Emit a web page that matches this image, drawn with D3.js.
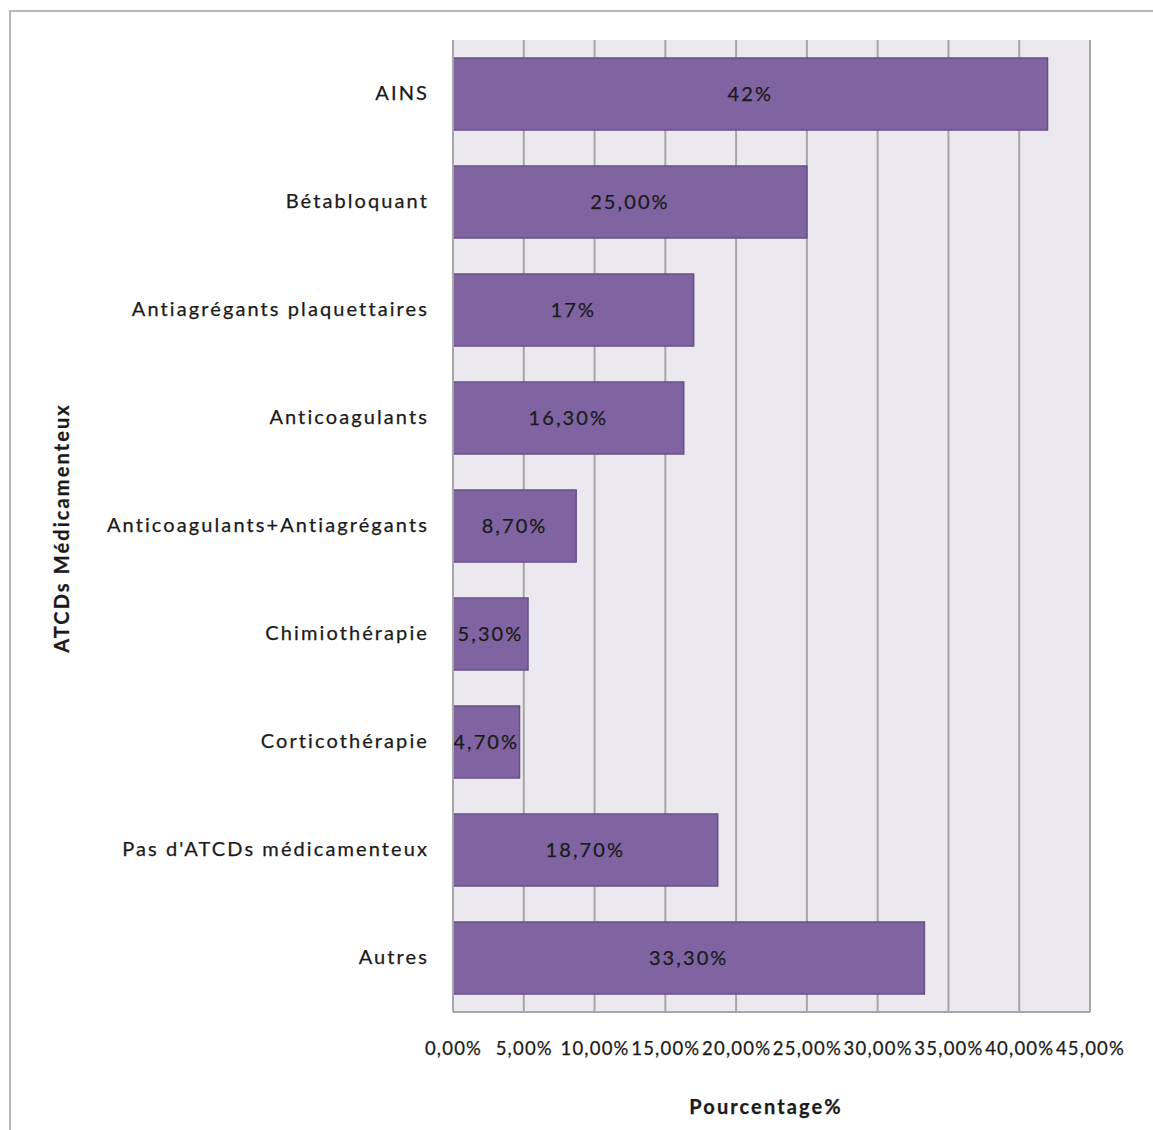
<!DOCTYPE html>
<html>
<head>
<meta charset="utf-8">
<script src="https://cdn.jsdelivr.net/npm/d3@7"></script>
<style>
  body { margin: 0; background: #fff; }
  svg text { font-family: Lato, "Open Sans", sans-serif; fill: #1a1a1a; letter-spacing: 2.1px;
             stroke: #1a1a1a; stroke-width: 0.25px; }
</style>
</head>
<body>
<svg id="chart" width="1153" height="1130"></svg>
<script>
// Antécédents médicamenteux, in percent
const categories = [
  "AINS",
  "Bétabloquant",
  "Antiagrégants plaquettaires",
  "Anticoagulants",
  "Anticoagulants+Antiagrégants",
  "Chimiothérapie",
  "Corticothérapie",
  "Pas d'ATCDs médicamenteux",
  "Autres"
];
const values = [42, 25, 17, 16.3, 8.7, 5.3, 4.7, 18.7, 33.3];
const valueLabels = ["42%", "25,00%", "17%", "16,30%", "8,70%", "5,30%", "4,70%", "18,70%", "33,30%"];
const tickValues = [0, 5, 10, 15, 20, 25, 30, 35, 40, 45];
const tickLabels = ["0,00%", "5,00%", "10,00%", "15,00%", "20,00%", "25,00%", "30,00%", "35,00%", "40,00%", "45,00%"];

const FONT = "Lato, 'Open Sans', sans-serif";
const svg = d3.select("#chart");

// outer chart frame
svg.append("rect")
  .attr("x", 10).attr("y", 11)
  .attr("width", 1200).attr("height", 1200)
  .attr("fill", "#fff")
  .attr("stroke", "#b8b8b8").attr("stroke-width", 2);

const plot = { left: 453, right: 1090, top: 40, bottom: 1012 };

const x = d3.scaleLinear().domain([0, 45]).range([plot.left, plot.right]);
const y = d3.scaleBand()
  .domain(categories)
  .range([plot.top, plot.bottom])
  .paddingInner(1 / 3)
  .paddingOuter(1 / 6);

// plot background
svg.append("rect")
  .attr("x", plot.left).attr("y", plot.top)
  .attr("width", plot.right - plot.left).attr("height", plot.bottom - plot.top)
  .attr("fill", "#ebe9ef");

// vertical gridlines
svg.append("g")
  .selectAll("line")
  .data(tickValues)
  .join("line")
  .attr("x1", d => x(d)).attr("x2", d => x(d))
  .attr("y1", plot.top).attr("y2", plot.bottom)
  .attr("stroke", "#a6a6a6").attr("stroke-width", 2);

// bottom border of plot
svg.append("line")
  .attr("x1", plot.left).attr("x2", plot.right)
  .attr("y1", plot.bottom).attr("y2", plot.bottom)
  .attr("stroke", "#a6a6a6").attr("stroke-width", 2);

// bars
svg.append("g")
  .selectAll("rect")
  .data(categories)
  .join("rect")
  .attr("x", x(0))
  .attr("y", d => y(d))
  .attr("width", (d, i) => x(values[i]) - x(0))
  .attr("height", y.bandwidth())
  .attr("fill", "#8064a2")
  .attr("stroke", "#664f85").attr("stroke-width", 1.5);

// value labels centred in each bar
svg.append("g")
  .selectAll("text")
  .data(categories)
  .join("text")
  .attr("x", (d, i) => (x(0) + x(values[i])) / 2)
  .attr("y", d => y(d) + y.bandwidth() / 2)
  .attr("dy", "0.35em")
  .attr("text-anchor", "middle")
  .attr("font-size", 20)
  .text((d, i) => valueLabels[i]);

// category axis
const yAxis = d3.axisLeft(y).tickSize(0).tickPadding(24);
const gy = svg.append("g")
  .attr("transform", `translate(${plot.left},0)`)
  .call(yAxis);
gy.select(".domain").remove();
gy.selectAll("text").attr("font-size", 20).style("font-family", FONT).attr("fill", "#1a1a1a");

// left axis line
svg.append("line")
  .attr("x1", plot.left).attr("x2", plot.left)
  .attr("y1", plot.top).attr("y2", plot.bottom)
  .attr("stroke", "#a6a6a6").attr("stroke-width", 2);

// value axis; labels kept tight so neighbours just meet
const xAxis = d3.axisBottom(x)
  .tickValues(tickValues)
  .tickFormat((d, i) => tickLabels[i])
  .tickSize(0)
  .tickPadding(30);
const gx = svg.append("g")
  .attr("transform", `translate(0,${plot.bottom})`)
  .call(xAxis);
gx.select(".domain").remove();
gx.selectAll("text")
  .attr("font-size", 18.5)
  .style("font-family", FONT)
  .style("letter-spacing", "1.2px")
  .attr("fill", "#1a1a1a");

// axis titles
svg.append("text")
  .attr("x", 766).attr("y", 1107)
  .attr("dy", "0.35em")
  .attr("text-anchor", "middle")
  .attr("font-size", 20).attr("font-weight", "bold")
  .text("Pourcentage%");

svg.append("text")
  .attr("transform", "translate(62,528) rotate(-90)")
  .attr("dy", "0.35em")
  .attr("text-anchor", "middle")
  .attr("font-size", 20).attr("font-weight", "bold")
  .text("ATCDs Médicamenteux");
</script>
</body>
</html>
